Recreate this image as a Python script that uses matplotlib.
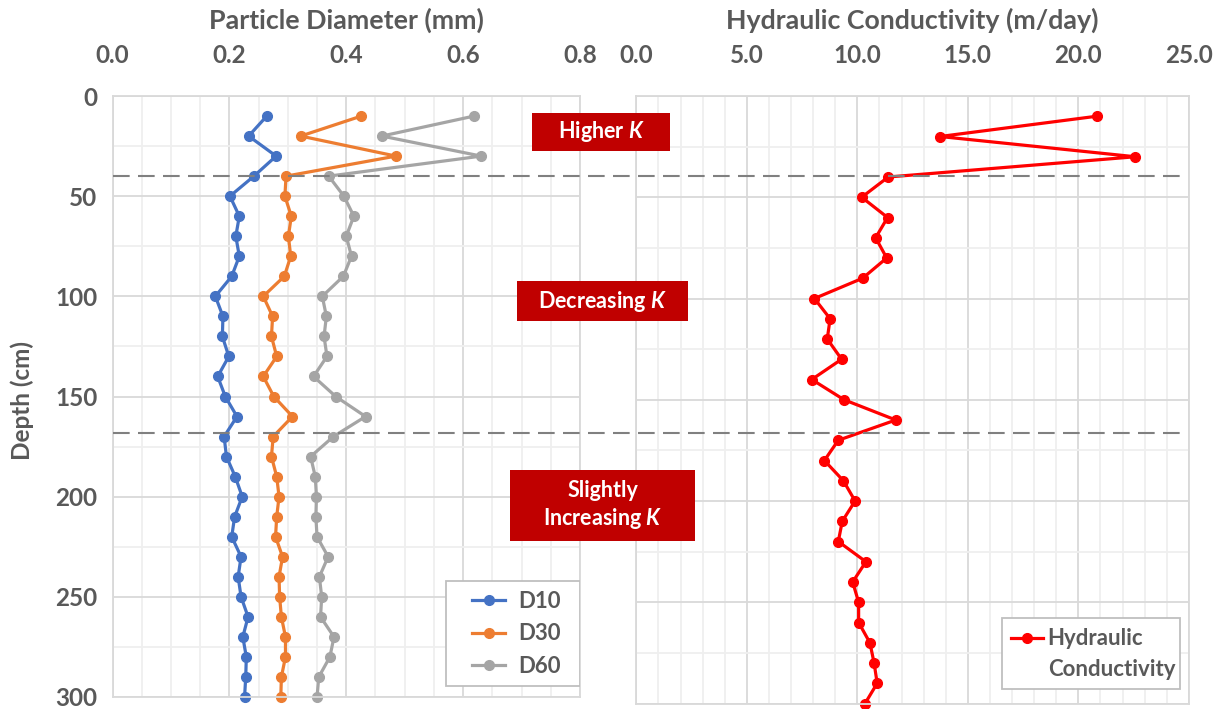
import matplotlib
matplotlib.use("Agg")
import matplotlib.pyplot as plt
from matplotlib.lines import Line2D
from matplotlib.patches import Rectangle
from matplotlib.ticker import MultipleLocator
import matplotlib.transforms as mtransforms

plt.rcParams["font.family"] = ["Lato", "DejaVu Sans"]
plt.rcParams["font.weight"] = "bold"
plt.rcParams["mathtext.fontset"] = "custom"
plt.rcParams["mathtext.rm"] = "Lato:bold"
plt.rcParams["mathtext.it"] = "Lato:italic:bold"

# depth of each sample (cm)
depth = [10, 20, 30, 40, 50, 60, 70, 80, 90, 100,
         110, 120, 130, 140, 150, 160, 170, 180, 190, 200,
         210, 220, 230, 240, 250, 260, 270, 280, 290, 300]

# particle diameters (mm)
d10 = [0.264, 0.233, 0.280, 0.242, 0.201, 0.217, 0.211, 0.217, 0.204, 0.176,
       0.189, 0.188, 0.199, 0.180, 0.193, 0.213, 0.191, 0.195, 0.210, 0.222,
       0.209, 0.204, 0.220, 0.215, 0.220, 0.232, 0.223, 0.229, 0.228, 0.226]
d30 = [0.426, 0.322, 0.485, 0.297, 0.295, 0.306, 0.301, 0.305, 0.294, 0.258,
       0.274, 0.272, 0.281, 0.258, 0.276, 0.308, 0.275, 0.272, 0.281, 0.285,
       0.281, 0.279, 0.291, 0.285, 0.286, 0.289, 0.296, 0.296, 0.289, 0.288]
d60 = [0.619, 0.461, 0.631, 0.370, 0.396, 0.413, 0.400, 0.409, 0.395, 0.359,
       0.366, 0.362, 0.367, 0.344, 0.382, 0.433, 0.378, 0.339, 0.347, 0.349,
       0.348, 0.350, 0.369, 0.354, 0.358, 0.356, 0.379, 0.372, 0.353, 0.350]

# hydraulic conductivity (m/day)
k_day = [20.83, 13.74, 22.58, 11.40, 10.20, 11.37, 10.83, 11.33, 10.24, 8.06,
         8.77, 8.64, 9.29, 7.94, 9.40, 11.74, 9.14, 8.51, 9.37, 9.90,
         9.32, 9.14, 10.39, 9.79, 10.06, 10.06, 10.57, 10.76, 10.90, 10.35]

# zone boundaries (cm)
boundaries = [40, 168]

TXT = "#595959"
GRID_MAJOR = "#D9D9D9"
GRID_MINOR = "#EFEFEF"

W, H = 1221, 709
fig = plt.figure(figsize=(W / 100, H / 100), dpi=100)


def fx(x):
    return x / W


def fy(y):
    return 1 - y / H


def px_axes(x0, y0, x1, y1):
    # axes rectangle from pixel corners (top-left origin)
    return fig.add_axes([fx(x0), fy(y1), (x1 - x0) / W, (y1 - y0) / H])


ax1 = px_axes(112.5, 96, 580, 697)
ax2 = px_axes(636.3, 96, 1188.8, 703.5)


def style_axis(ax, xmax, major, minor, show_y):
    ax.set_xlim(0, xmax)
    ax.set_ylim(300, 0)
    ax.xaxis.set_major_locator(MultipleLocator(major))
    ax.xaxis.set_minor_locator(MultipleLocator(minor))
    ax.yaxis.set_major_locator(MultipleLocator(50))
    ax.yaxis.set_minor_locator(MultipleLocator(25))
    ax.grid(which="major", color=GRID_MAJOR, lw=1.3)
    ax.grid(which="minor", color=GRID_MINOR, lw=1.3)
    ax.set_axisbelow(True)
    ax.xaxis.tick_top()
    ax.xaxis.set_major_formatter(lambda v, p: f"{v:.1f}")
    ax.tick_params(which="both", length=0, labelsize=17.5, labelcolor=TXT)
    ax.tick_params(axis="x", pad=21)
    ax.tick_params(axis="y", pad=11, labelleft=show_y)
    for s in ax.spines.values():
        s.set_color(GRID_MAJOR)
        s.set_linewidth(1.3)


style_axis(ax1, 0.8, 0.2, 0.05, True)
style_axis(ax2, 25, 5, 1, False)

fig.text(fx(346), fy(20), "Particle Diameter (mm)", fontsize=19.3, color=TXT,
         fontweight="bold", ha="center", va="center")
fig.text(fx(912), fy(20), "Hydraulic Conductivity (m/day)", fontsize=19.3,
         color=TXT, fontweight="bold", ha="center", va="center")
fig.text(fx(22), fy(400), "Depth (cm)", fontsize=17.5, color=TXT,
         fontweight="bold", ha="center", va="center", rotation=90)

mk = dict(marker="o", markersize=7, lw=2.3, clip_on=False)
ax1.plot(d10, depth, color="#4472C4", label="D10", **mk)
ax1.plot(d30, depth, color="#ED7D31", label="D30", **mk)
ax1.plot(d60, depth, color="#A5A5A5", label="D60", **mk)
ax2.plot(k_day, depth, color="#FF0000", **mk)


def legend_frame(ax, x0, y0, x1, y1):
    ax.add_artist(Rectangle((fx(x0), fy(y1)), (x1 - x0) / W, (y1 - y0) / H,
                            transform=fig.transFigure, facecolor="white",
                            edgecolor="#BFBFBF", lw=1.3, zorder=4))


legend_frame(ax1, 446, 581, 580, 686)
leg1 = ax1.legend(loc="center left",
                  bbox_to_anchor=(fx(472), fy(634)),
                  bbox_transform=fig.transFigure,
                  fontsize=16, frameon=False, handlelength=1.5,
                  handletextpad=0.6, labelspacing=0.52, borderpad=0,
                  borderaxespad=0)
leg1.set_zorder(5)
for t in leg1.get_texts():
    t.set_color(TXT)

legend_frame(ax2, 1002, 618, 1180, 689)
k_handle = Line2D([], [], color="#FF0000", marker="o", markersize=7, lw=2.3)
blank = Line2D([], [], color="none")
leg2 = ax2.legend([k_handle, blank], ["Hydraulic", "Conductivity"],
                  loc="center left",
                  bbox_to_anchor=(fx(1011), fy(654)),
                  bbox_transform=fig.transFigure,
                  fontsize=16, frameon=False, handlelength=1.45,
                  handletextpad=0.2, labelspacing=0.42, borderpad=0,
                  borderaxespad=0)
leg2.set_zorder(5)
for t in leg2.get_texts():
    t.set_color(TXT)

# dashed zone boundaries spanning both panels
tr = mtransforms.blended_transform_factory(fig.transFigure, ax1.transData)
for b in boundaries:
    fig.add_artist(Line2D([fx(113), fx(1186)], [b, b], transform=tr,
                          color="#808080", lw=1.5, dashes=(8, 4)))

# zone labels
zones = [
    ("Higher $K$", 532, 113, 670, 151),
    ("Decreasing $K$", 517, 281, 688, 321),
    ("Slightly\nIncreasing $K$", 510, 470, 695, 541),
]
for text, x0, y0, x1, y1 in zones:
    fig.add_artist(Rectangle((fx(x0), fy(y1)), (x1 - x0) / W, (y1 - y0) / H,
                             transform=fig.transFigure, facecolor="#C00000",
                             edgecolor="none"))
    fig.text(fx((x0 + x1) / 2), fy((y0 + y1) / 2), text, color="white",
             fontsize=15.5, fontweight="bold", ha="center", va="center",
             linespacing=1.3)

fig.savefig("out.png", dpi=100)
